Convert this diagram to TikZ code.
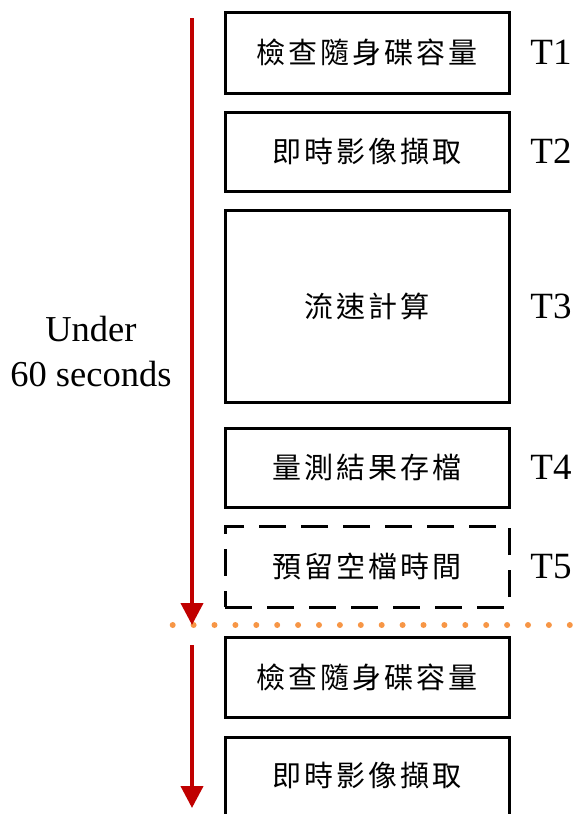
\documentclass[tikz,border=0pt]{standalone}
\usepackage{fontspec}
\setmainfont{Liberation Serif}
\newfontfamily\cjk[LetterSpace=10]{Noto Sans CJK TC}
\usetikzlibrary{arrows.meta}
\definecolor{arrowred}{RGB}{192,0,0}
\definecolor{dotorange}{RGB}{247,150,70}
\tikzset{
  stepbox/.style={draw=black, line width=3pt, minimum width=284pt, inner sep=0pt, font=\cjk\fontsize{29}{32}\selectfont},
  waitbox/.style={stepbox, dash pattern=on 27pt off 15pt},
  tlabel/.style={font=\fontsize{37}{40}\selectfont},
  timearrow/.style={draw=arrowred, line width=4pt, -{Triangle[width=22pt,length=22pt]}},
}
\begin{document}
\begin{tikzpicture}[x=1pt,y=-1pt]
\useasboundingbox (0,0) rectangle (574,814);
\clip (0,0) rectangle (574,814);
% boxes
\node[stepbox, minimum height=81pt] (b1) at (367,52.5) {檢查隨身碟容量};
\node[stepbox, minimum height=79pt] (b2) at (367,151.5) {即時影像擷取};
\node[stepbox, minimum height=192pt] (b3) at (367,306) {流速計算};
\node[stepbox, minimum height=79pt] (b4) at (367,467.5) {量測結果存檔};
\node[waitbox, minimum height=81pt] (b5) at (367,566.5) {預留空檔時間};
\node[stepbox, minimum height=80pt] (b6) at (367,677) {檢查隨身碟容量};
\node[stepbox, minimum height=110pt, anchor=north] (b7) at (367,736) {};
\node[font=\cjk\fontsize{29}{32}\selectfont] (b7t) at (367,775) {即時影像擷取};
% labels
\node[tlabel] (t1) at (551,52.5) {T1};
\node[tlabel] (t2) at (551,151.5) {T2};
\node[tlabel] (t3) at (551,306) {T3};
\node[tlabel] (t4) at (551,467.5) {T4};
\node[tlabel] (t5) at (551,566.5) {T5};
\node[font=\fontsize{36.5}{45}\selectfont, align=center] (dur) at (91,352) {Under\\60 seconds};
% dotted separator
\foreach \i in {0,...,19} {
  \fill[dotorange] (172.7+20.9*\i,625) circle (3pt);
}
% arrows
\coordinate (a1s) at (192,18);
\coordinate (a1e) at (192,625);
\coordinate (a2s) at (192,645);
\coordinate (a2e) at (192,808);
\draw[timearrow] (a1s) -- (a1e);
\draw[timearrow] (a2s) -- (a2e);
\end{tikzpicture}
\end{document}
